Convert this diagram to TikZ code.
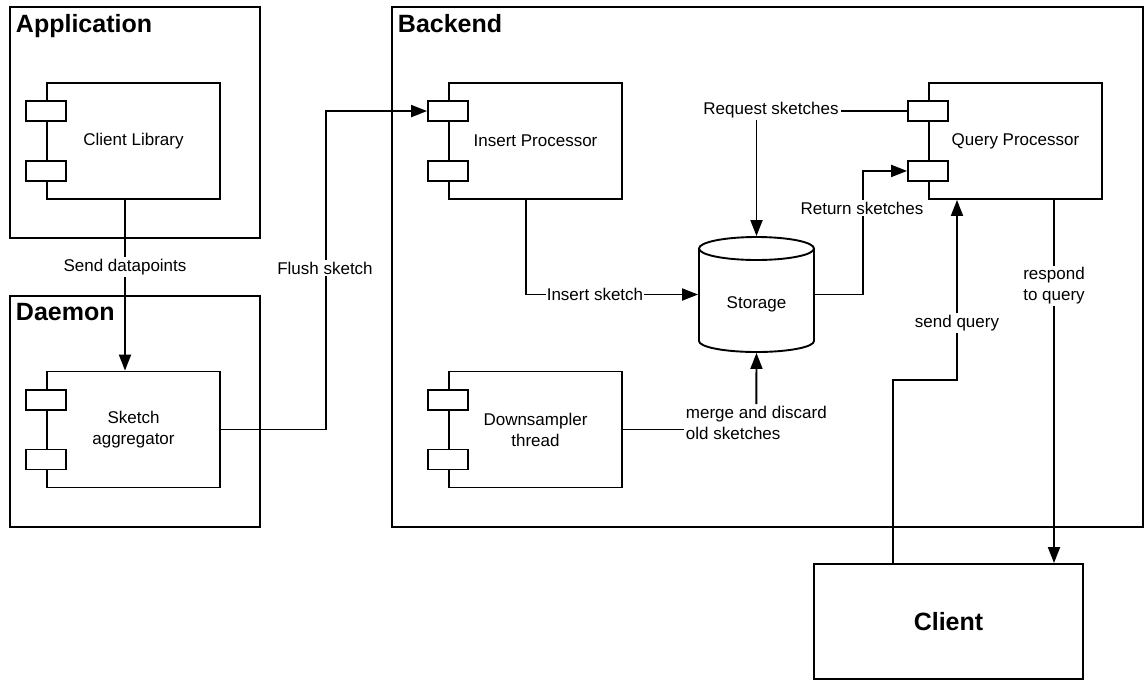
\documentclass[tikz,border=0pt]{standalone}
\usepackage{fontspec}
\setmainfont{Liberation Sans}
\usetikzlibrary{arrows.meta,calc}
\begin{document}
\begin{tikzpicture}[x=1pt,y=-1pt,
  line width=1.9pt,
  every node/.style={font=\fontsize{17}{21}\selectfont},
  container/.style={draw, anchor=north west, inner sep=0pt},
  comp/.style={draw, minimum width=173pt, minimum height=116pt, inner sep=0pt, align=center},
  port/.style={draw, fill=white, minimum width=40pt, minimum height=20pt, inner sep=0pt},
  title/.style={anchor=base west, font=\fontsize{25}{30}\selectfont\bfseries, inner sep=0pt},
  lbl/.style={fill=white, inner sep=2pt, align=center},
  arr/.style={-{Triangle[length=16pt,width=12pt]}},
]
\fill[white] (0,0) rectangle (1144,681);
\useasboundingbox (0,0) rectangle (1144,681);

% containers
\node[container, minimum width=250pt, minimum height=231pt] (app) at (9,6) {};
\node[container, minimum width=250pt, minimum height=231pt] (daemon) at (9,295) {};
\node[container, minimum width=751pt, minimum height=520pt] (backend) at (391,6) {};
\node[title] (tapp) at (15,32) {Application};
\node[title] (tdaemon) at (15,320) {Daemon};
\node[title] (tbackend) at (397,32) {Backend};

% components
\node[comp] (clientlib) at (133.5,141) {Client Library};
\node[comp] (aggr) at (133.5,429.5) {Sketch\\aggregator};
\node[comp] (insert) at (535.5,141) {Insert Processor};
\node[comp] (down) at (535.5,429.5) {Downsampler\\thread};
\node[comp] (query) at (1015.5,141) {Query Processor};
\foreach \c in {clientlib,aggr,insert,down,query}{
  \node[port] (\c1) at ($(\c.north west)+(0,29)$) {};
  \node[port] (\c2) at ($(\c.south west)+(0,-29)$) {};
}

% storage
\node[minimum width=115pt, minimum height=115pt, inner sep=0pt] (storage) at (756.5,294.5) {};
\draw (699,248.5) -- (699,341) arc[start angle=180, end angle=360, x radius=57.5pt, y radius=11pt] -- (814,248.5);
\draw (756.5,248.5) ellipse [x radius=57.5pt, y radius=11.5pt];
\node (tstorage) at ($(storage.center)+(0,10)$) {Storage};

% client
\node[draw, minimum width=269pt, minimum height=115pt, font=\fontsize{25}{30}\selectfont\bfseries] (client) at (948.5,621.5) {Client};

% connectors
\draw[arr] ([xshift=-8.5pt]clientlib.south) -- ([xshift=-8.5pt]aggr.north);
\node[lbl] (lsend) at (125,267) {Send datapoints};

\draw[arr] (aggr.east) -- ($(aggr.east)+(105,0)$) |- (insert1.west);
\node[lbl] (lflush) at (325,268) {Flush sketch};

\draw[arr] ([xshift=-9.5pt]insert.south) |- (storage.west);
\node[lbl, inner sep=1pt] (linsert) at (595,294) {Insert sketch};

\draw[arr] (query1.west) -| (storage.north);
\node[lbl] (lrequest) at (771,110) {Request sketches};

\draw[arr] (storage.east) -- ($(storage.east)+(48,0)$) |- (query2.west);
\node[lbl] (lreturn) at (862,208) {Return sketches};

\draw[arr] ([xshift=-55.5pt]client.north) -- ++(0,-183) -| ([xshift=-58.5pt]query.south);
\node[lbl] (lsendq) at (957,323) {send query};

\draw[arr] ([xshift=38.5pt]query.south) -- ([xshift=105.5pt]client.north);
\node[lbl] (lrespond) at (1054,286) {respond\\to query};

\node[align=left, inner sep=1pt, anchor=north west] (merge) at (684,404) {merge and discard\\old sketches};
\draw (down.east) -- (down.east -| merge.west);
\draw[arr] (merge.north) -- (storage.south);
\end{tikzpicture}
\end{document}
